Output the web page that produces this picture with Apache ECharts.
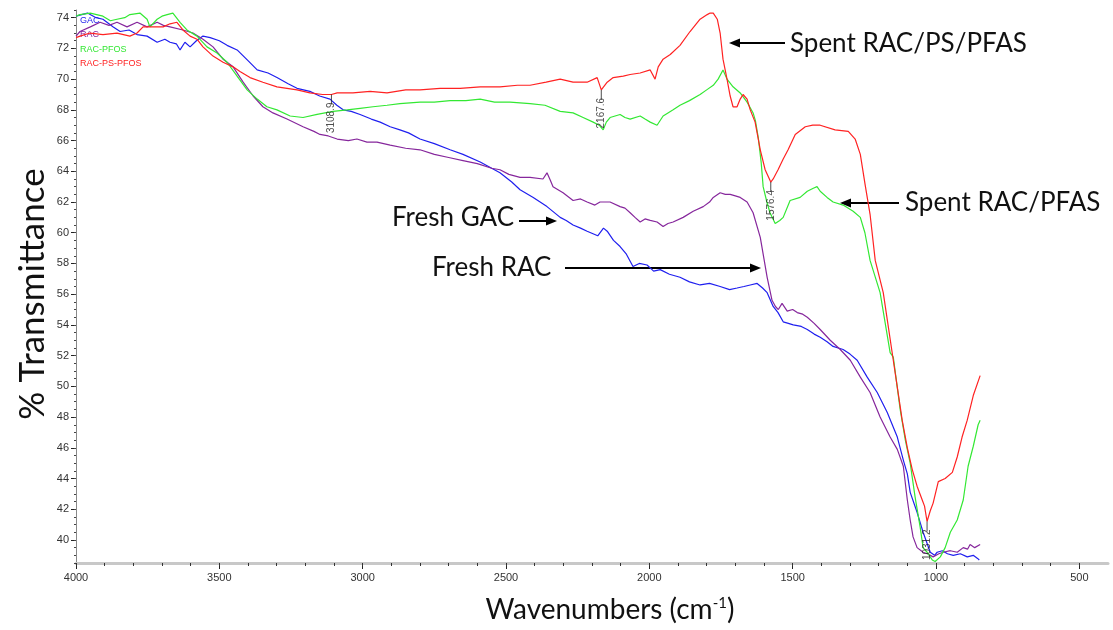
<!DOCTYPE html>
<html>
<head>
<meta charset="utf-8">
<title>FTIR spectra</title>
<script src="https://cdn.jsdelivr.net/npm/echarts@6/dist/echarts.min.js"></script>
<style>
  html, body { margin: 0; padding: 0; background: #fff; }
  #chart { width: 1113px; height: 630px; }
</style>
</head>
<body>
<div id="chart"></div>
<script>
// Tick labels
const wavenumberTicks = [4000, 3500, 3000, 2500, 2000, 1500, 1000, 500];
const transmittanceTicks = [40, 42, 44, 46, 48, 50, 52, 54, 56, 58, 60, 62, 64, 66, 68, 70, 72, 74];

// Series names
const seriesNames = ['GAC', 'RAC', 'RAC-PFOS', 'RAC-PS-PFOS'];

// Spectra: [wavenumber (cm-1), % transmittance]
const gacSpectrum = [
  [4000,74.1],[3960,74.3],[3930,74.0],[3906,73.9],[3870,73.4],[3846,73.1],[3815,73.2],[3787,72.9],
  [3752,72.8],[3717,72.4],[3690,72.6],[3672,72.4],[3650,72.3],[3637,71.9],[3620,72.4],[3602,72.1],
  [3580,72.5],[3557,72.8],[3532,72.7],[3500,72.5],[3473,72.2],[3438,71.9],[3400,71.2],[3368,70.6],
  [3330,70.4],[3299,70.1],[3260,69.7],[3229,69.4],[3184,69.2],[3150,68.9],[3114,68.7],[3090,68.3],
  [3068,68.0],[3040,67.9],[3009,67.7],[2970,67.4],[2939,67.2],[2904,66.9],[2870,66.7],[2840,66.5],
  [2800,66.1],[2750,65.8],[2695,65.4],[2650,65.1],[2590,64.6],[2550,64.2],[2521,63.9],[2480,63.3],
  [2451,62.8],[2405,62.3],[2357,61.7],[2311,61.0],[2290,60.8],[2266,60.5],[2240,60.3],[2217,60.1],
  [2180,59.8],[2160,60.3],[2147,60.1],[2125,59.5],[2102,59.1],[2080,58.6],[2057,57.8],[2035,58.0],
  [2008,57.9],[1985,57.5],[1962,57.6],[1930,57.3],[1893,57.1],[1860,56.8],[1823,56.6],[1790,56.7],
  [1753,56.5],[1720,56.3],[1694,56.4],[1670,56.5],[1648,56.6],[1624,56.7],[1605,56.4],[1589,56.1],
  [1568,55.2],[1551,54.8],[1533,54.2],[1515,54.1],[1498,54.0],[1470,53.9],[1449,53.7],[1425,53.4],
  [1404,53.2],[1380,52.9],[1359,52.6],[1324,52.4],[1300,52.1],[1275,51.7],[1240,50.6],[1205,49.6],
  [1170,48.3],[1135,46.7],[1114,45.2],[1100,44.3],[1090,43.1],[1066,41.8],[1045,40.5],[1020,39.2],
  [1005,39.0],[996,39.2],[978,39.3],[960,39.1],[940,39.0],[915,39.1],[891,38.9],[870,39.0],
  [855,38.8],[849,38.7]
];

const racSpectrum = [
  [4000,72.8],[3986,73.1],[3950,73.4],[3916,73.7],[3885,73.5],[3857,73.7],[3822,73.4],[3787,73.7],
  [3752,73.4],[3717,73.7],[3695,73.5],[3672,73.4],[3627,73.2],[3592,73.0],[3557,72.6],[3522,72.1],
  [3487,71.3],[3452,70.8],[3417,69.8],[3382,68.9],[3348,68.2],[3313,67.8],[3264,67.4],[3208,66.9],
  [3170,66.6],[3149,66.4],[3120,66.3],[3089,66.1],[3050,66.0],[3020,66.1],[2985,65.9],[2950,65.9],
  [2904,65.7],[2850,65.5],[2800,65.4],[2750,65.1],[2700,64.9],[2650,64.7],[2600,64.5],[2550,64.2],
  [2521,64.1],[2490,63.8],[2451,63.6],[2416,63.6],[2371,63.5],[2357,63.9],[2345,63.4],[2336,63.0],
  [2301,62.6],[2266,62.1],[2240,62.2],[2217,62.0],[2190,61.8],[2172,62.0],[2137,62.0],[2102,61.7],
  [2085,61.6],[2067,61.3],[2050,61.0],[2032,60.7],[2015,60.9],[1997,60.8],[1973,60.7],[1952,60.4],
  [1935,60.6],[1917,60.7],[1882,61.0],[1847,61.4],[1812,61.7],[1790,62.0],[1777,62.3],[1753,62.6],
  [1735,62.5],[1718,62.5],[1700,62.4],[1683,62.3],[1659,62.0],[1638,61.3],[1613,59.7],[1589,57.1],
  [1572,55.6],[1560,55.2],[1550,55.0],[1537,55.4],[1519,54.9],[1500,55.0],[1484,54.8],[1465,54.7],
  [1449,54.5],[1425,54.1],[1404,53.7],[1369,53.0],[1334,52.4],[1299,51.7],[1264,50.6],[1230,49.6],
  [1195,48.0],[1160,46.7],[1135,45.9],[1114,44.8],[1100,42.6],[1090,41.3],[1080,40.2],[1066,39.5],
  [1045,39.2],[1030,39.1],[1010,38.9],[990,39.1],[975,39.2],[950,39.3],[926,39.2],[905,39.5],
  [890,39.4],[881,39.7],[865,39.5],[846,39.7]
];

const racPfosSpectrum = [
  [4000,74.1],[3986,74.2],[3950,74.3],[3906,74.1],[3880,73.8],[3857,73.9],[3830,74.0],[3812,74.2],
  [3777,74.3],[3752,73.9],[3742,73.4],[3717,73.9],[3700,74.1],[3682,74.2],[3662,74.3],[3637,73.7],
  [3613,73.2],[3578,72.8],[3543,72.1],[3508,71.7],[3473,71.1],[3438,70.2],[3403,69.3],[3368,68.7],
  [3334,68.2],[3299,68.0],[3253,67.6],[3208,67.5],[3159,67.7],[3103,67.9],[3054,68.0],[3009,68.1],
  [2964,68.2],[2915,68.3],[2870,68.4],[2800,68.5],[2750,68.5],[2695,68.6],[2640,68.6],[2590,68.7],
  [2540,68.5],[2486,68.5],[2416,68.4],[2364,68.3],[2311,67.9],[2266,67.8],[2231,67.5],[2196,67.2],
  [2175,67.0],[2161,66.7],[2150,67.2],[2137,67.5],[2102,67.7],[2085,67.5],[2067,67.4],[2032,67.6],
  [2015,67.4],[1997,67.2],[1973,67.0],[1952,67.6],[1935,67.8],[1917,68.0],[1893,68.3],[1860,68.6],
  [1823,69.0],[1800,69.3],[1777,69.6],[1760,70.0],[1743,70.6],[1729,70.0],[1708,69.5],[1683,69.1],
  [1659,68.5],[1638,67.8],[1630,67.3],[1620,66.2],[1610,64.6],[1603,63.0],[1590,62.0],[1579,61.3],
  [1561,60.6],[1545,60.8],[1533,61.0],[1509,62.1],[1474,62.3],[1449,62.7],[1428,62.9],[1415,63.0],
  [1404,62.7],[1380,62.3],[1359,62.0],[1324,61.8],[1289,61.4],[1264,61.0],[1248,60.0],[1230,58.2],
  [1195,56.1],[1160,52.2],[1149,51.9],[1125,48.5],[1107,46.5],[1090,45.0],[1073,42.8],[1055,40.8],
  [1045,39.5],[1031,39.2],[1013,38.7],[1003,38.6],[985,38.9],[968,39.5],[950,40.5],[926,41.3],
  [905,42.6],[888,44.8],[870,46.1],[853,47.5],[846,47.8]
];

const racPsPfosSpectrum = [
  [4000,72.7],[3986,72.8],[3951,73.0],[3906,72.9],[3857,73.0],[3812,72.8],[3787,73.0],[3766,73.4],
  [3731,73.4],[3696,73.4],[3672,73.6],[3648,73.7],[3627,73.2],[3602,72.8],[3578,72.6],[3557,72.1],
  [3522,71.5],[3487,71.1],[3452,70.8],[3428,70.5],[3393,70.1],[3348,69.8],[3299,69.5],[3229,69.3],
  [3184,69.1],[3140,69.0],[3108.9,69.0],[3089,69.1],[3034,69.1],[2974,69.2],[2915,69.1],[2850,69.3],
  [2800,69.3],[2730,69.4],[2660,69.4],[2590,69.5],[2521,69.5],[2460,69.6],[2416,69.6],[2360,69.8],
  [2311,70.0],[2266,69.8],[2217,69.8],[2182,70.1],[2167.6,69.3],[2147,69.8],[2126,70.1],[2091,70.2],
  [2067,70.3],[2032,70.4],[1997,70.6],[1980,70.0],[1969,70.8],[1952,71.3],[1927,71.6],[1893,72.2],
  [1858,73.1],[1823,73.9],[1798,74.2],[1788,74.3],[1777,74.3],[1763,73.9],[1753,73.0],[1743,71.3],
  [1729,70.0],[1718,68.9],[1708,68.2],[1694,68.2],[1683,68.7],[1673,69.0],[1659,68.7],[1648,68.0],
  [1631,67.2],[1613,65.4],[1596,64.1],[1576.4,63.3],[1568,63.5],[1551,64.1],[1533,64.8],[1516,65.4],
  [1491,66.4],[1456,66.9],[1430,67.0],[1404,67.0],[1352,66.7],[1306,66.6],[1282,66.1],[1264,65.1],
  [1247,63.1],[1230,61.2],[1212,58.2],[1184,56.1],[1149,51.7],[1125,48.7],[1118,47.8],[1100,46.0],
  [1083,44.6],[1066,43.5],[1048,42.6],[1040,42.2],[1031.2,41.2],[1020,41.9],[1010,42.4],[992,43.8],
  [968,44.0],[943,44.4],[926,45.4],[909,46.7],[891,47.8],[870,49.4],[846,50.7]
];

// Peaks picked on the RAC-PS-PFOS trace
const peakWavenumbers = [3108.9, 2167.6, 1576.4, 1031.2];

const colors = ['#1f1fef', '#86279c', '#33e833', '#ff2222'];
const spectra = [gacSpectrum, racSpectrum, racPfosSpectrum, racPsPfosSpectrum];

const peakPoints = peakWavenumbers.map(w => racPsPfosSpectrum.find(p => p[0] === w));

const minorWavenumberTicks = [];
for (let w = 500; w <= 4000; w += 100) minorWavenumberTicks.push(w);

const chart = echarts.init(document.getElementById('chart'), null, { renderer: 'canvas' });

const FONT = 'Lato, "Open Sans", sans-serif';
const TICK_FONT = '"Liberation Sans Narrow", "Liberation Sans", Arial, sans-serif';

function arrow(x1, y1, x2, y2) {
  const dx = x2 - x1, dy = y2 - y1;
  const len = Math.sqrt(dx * dx + dy * dy);
  const ux = dx / len, uy = dy / len;
  const headLen = 11, headW = 4.5;
  const bx = x2 - ux * headLen, by = y2 - uy * headLen;
  return [
    { type: 'line', shape: { x1: x1, y1: y1, x2: bx, y2: by }, style: { stroke: '#000', lineWidth: 2 } },
    { type: 'polygon', shape: { points: [[x2, y2], [bx - uy * headW, by + ux * headW], [bx + uy * headW, by - ux * headW]] }, style: { fill: '#000' } }
  ];
}

function note(text, x, y, align) {
  return { type: 'text', x: x, y: y, style: { text: text, font: '26px ' + FONT, fill: '#111', align: align || 'left', verticalAlign: 'middle' } };
}

const graphics = [
  {
    type: 'text', x: 33, y: 294, rotation: Math.PI / 2,
    style: { text: '% Transmittance', font: '35px ' + FONT, fill: '#111', align: 'center', verticalAlign: 'middle' }
  },
  {
    type: 'text', x: 610, y: 610,
    style: {
      text: 'Wavenumbers (cm{sup|-1})', font: '28px ' + FONT, fill: '#111', align: 'center', verticalAlign: 'middle',
      rich: { sup: { fontSize: 15, fontFamily: 'Lato', verticalAlign: 'top', fill: '#111', padding: [0, 0, 12, 0] } }
    }
  },
  note('Spent RAC/PS/PFAS', 790, 44),
  note('Spent RAC/PFAS', 905, 203),
  note('Fresh GAC', 514, 218, 'right'),
  note('Fresh RAC', 432, 268)
].concat(arrow(785, 43, 729, 43))
 .concat(arrow(899, 203, 840, 203))
 .concat(arrow(519, 221, 557, 221))
 .concat(arrow(565, 268, 761, 268));

const lineSeries = spectra.map((data, i) => ({
  name: seriesNames[i],
  type: 'line',
  data: data,
  showSymbol: false,
  symbol: 'none',
  lineStyle: { width: 1.2, color: colors[i] },
  itemStyle: { color: colors[i] },
  z: 2 + i
}));

const peakSeries = {
  name: 'peaks',
  type: 'scatter',
  data: peakPoints,
  symbol: 'rect',
  symbolSize: [1, 10],
  symbolOffset: [0, 5],
  itemStyle: { color: '#222' },
  z: 10,
  label: {
    show: true,
    position: 'bottom',
    distance: 1,
    rotate: 90,
    align: 'right',
    verticalAlign: 'middle',
    offset: [3, 0],
    fontSize: 10,
    fontFamily: TICK_FONT,
    color: '#222',
    formatter: p => p.value[0].toFixed(1)
  }
};

chart.setOption({
  animation: false,
  backgroundColor: '#fff',
  textStyle: { fontFamily: FONT },
  grid: { left: 76, top: 10, width: 1032, height: 553 },
  legend: {
    left: 70, top: 10, orient: 'vertical', icon: 'none', itemWidth: 0, itemHeight: 0, itemGap: 4,
    selectedMode: false,
    textStyle: { fontSize: 9, fontFamily: TICK_FONT, lineHeight: 10.5 },
    data: seriesNames.map((n, i) => ({ name: n, textStyle: { color: colors[i] } }))
  },
  xAxis: [
    {
      type: 'value', min: 400, max: 4000, inverse: true, position: 'bottom',
      axisLine: { show: true, onZero: false, lineStyle: { color: '#c8c8c8', width: 3 } },
      axisTick: { show: true, customValues: wavenumberTicks, length: 6, lineStyle: { color: '#222', width: 1 } },
      axisLabel: { customValues: wavenumberTicks, fontSize: 11, color: '#333', margin: 9, fontFamily: TICK_FONT, formatter: v => String(v) },
      splitLine: { show: false }
    },
    {
      type: 'value', min: 400, max: 4000, interval: 100, inverse: true, position: 'bottom',
      axisLine: { show: false },
      axisTick: { show: true, customValues: minorWavenumberTicks, length: 3, lineStyle: { color: '#333', width: 1 } },
      axisLabel: { show: false },
      splitLine: { show: false }
    }
  ],
  yAxis: [
    {
      type: 'value', min: 38.5, max: 74.5, position: 'left',
      axisLine: { show: true, onZero: false, lineStyle: { color: '#888', width: 1 } },
      axisTick: { show: true, customValues: transmittanceTicks, length: 5, lineStyle: { color: '#222' } },
      axisLabel: { customValues: transmittanceTicks, fontSize: 11, color: '#333', margin: 7, fontFamily: TICK_FONT, formatter: v => String(v) },
      splitLine: { show: false }
    },
    {
      type: 'value', min: 38.5, max: 74.5, interval: 0.5, position: 'left',
      axisLine: { show: false },
      axisTick: { show: true, length: 2, lineStyle: { color: '#444' } },
      axisLabel: { show: false },
      splitLine: { show: false }
    }
  ],
  series: lineSeries.concat([peakSeries]),
  graphic: graphics
});
</script>
</body>
</html>
